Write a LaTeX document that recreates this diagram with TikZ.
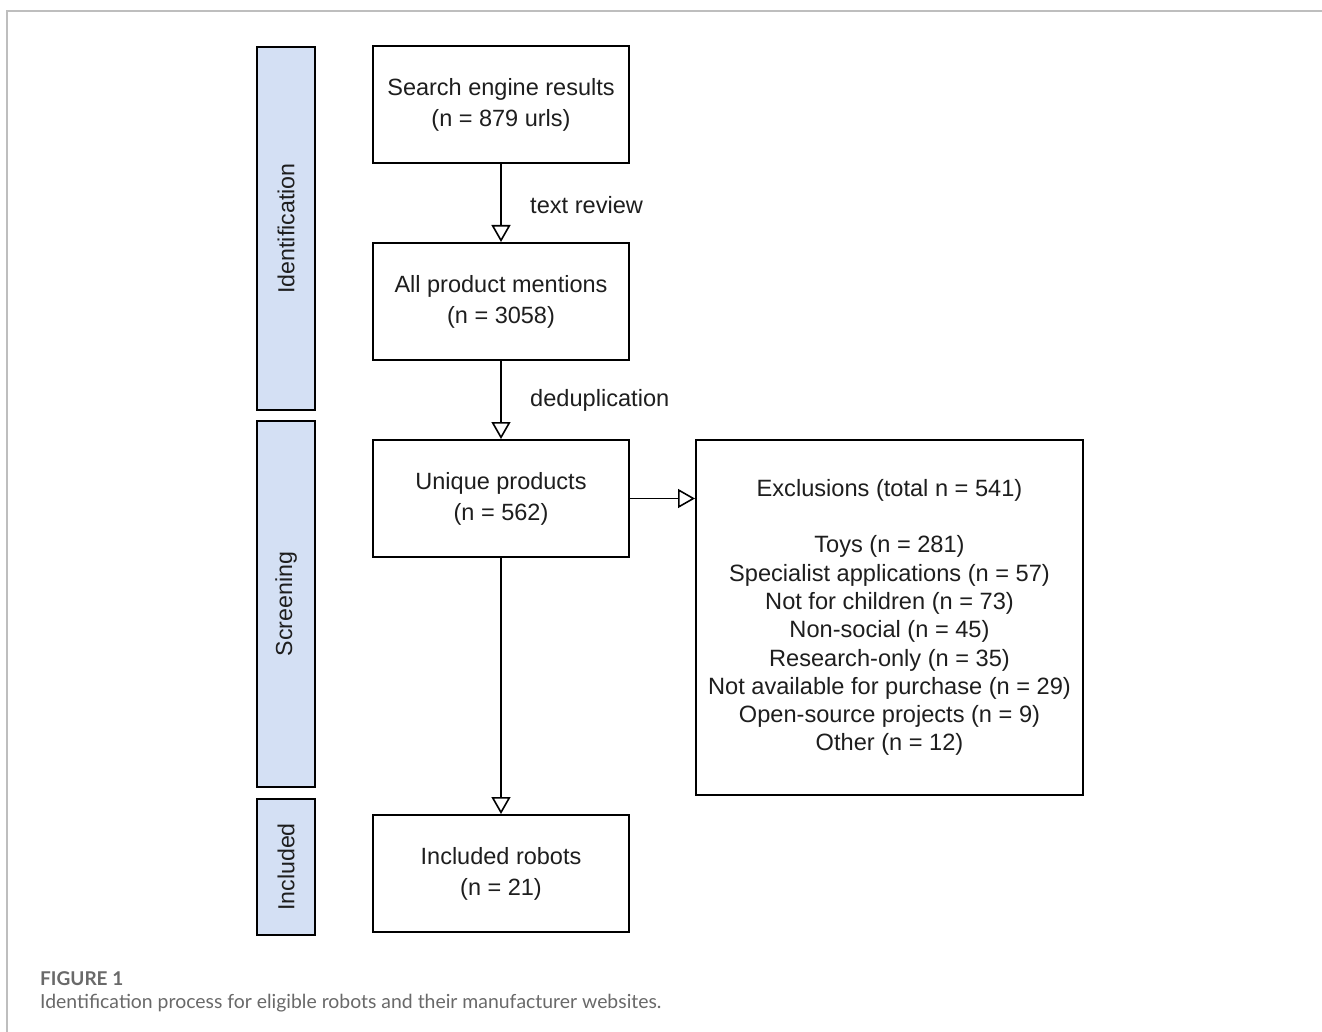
\documentclass[tikz,border=0pt]{standalone}
\usepackage{fontspec}
\setmainfont{Liberation Sans}
\newfontfamily\capfont{Lato}
\usetikzlibrary{arrows.meta}
\definecolor{lanefill}{RGB}{212,224,244}
\definecolor{txt}{RGB}{30,30,30}
\definecolor{capgray}{RGB}{105,105,105}
\definecolor{framegray}{RGB}{190,190,190}
\begin{document}
\begin{tikzpicture}[x=1pt,y=-1pt,
  box/.style={draw=black, line width=2pt, fill=white, minimum width=256pt, minimum height=117pt, align=center, text=txt, font=\fontsize{23.5}{31}\selectfont, inner sep=0pt},
  lane/.style={draw=black, line width=2pt, fill=lanefill, rotate=90, minimum height=58pt, inner sep=0pt, text=txt, font=\fontsize{23.2}{26}\selectfont},
  arr/.style={draw=black, line width=1.6pt, -{Triangle[open, width=19pt, length=17pt, line width=1.6pt]}},
  lbl/.style={anchor=west, text=txt, font=\fontsize{23.6}{26}\selectfont, inner sep=0pt}]
\useasboundingbox (0,0) rectangle (1322,1032);
\fill[white] (0,0) rectangle (1322,1032);
\draw[framegray, line width=1.5pt] (7,1032) -- (7,11) -- (1322,11);
% lanes
\node[lane, minimum width=363pt] (lid) at (286,228.5) {Identification};
\node[lane, minimum width=366pt] (lsc) at (286,604) {Screening};
\node[lane, minimum width=136pt] (lin) at (286,867) {Included};
% boxes
\node[box] (b1) at (501,104.5) {Search engine results\\(n = 879 urls)};
\node[box] (b2) at (501,301.5) {All product mentions\\(n = 3058)};
\node[box] (b3) at (501,498.5) {Unique products\\(n = 562)};
\node[box] (b4) at (501,873.5) {Included robots\\(n = 21)};
\node[box, minimum width=387pt, minimum height=355pt, font=\fontsize{23.6}{28.3}\selectfont] (ex) at (889.5,617.5)
  {Exclusions (total n = 541)\\[28.3pt]Toys (n = 281)\\Specialist applications (n = 57)\\Not for children (n = 73)\\Non-social (n = 45)\\Research-only (n = 35)\\Not available for purchase (n = 29)\\Open-source projects (n = 9)\\Other (n = 12)};
% connectors
\draw[arr] (b1) -- (b2);
\draw[arr] (b2) -- (b3);
\draw[arr] (b3) -- (b4);
\draw[arr] (b3.east) -- (b3.east -| ex.west);
% labels
\node[lbl] (t1) at (530,205) {text review};
\node[lbl] (t2) at (530,400) {deduplication};
% caption
\node[anchor=west, inner sep=0pt, text=capgray, font=\capfont\bfseries\fontsize{19}{22}\selectfont] (cap1) at (40,979) {FIGURE 1};
\node[anchor=west, inner sep=0pt, text=capgray, font=\capfont\fontsize{19.4}{22}\selectfont] (cap2) at (40,1003) {Identification process for eligible robots and their manufacturer websites.};
\end{tikzpicture}
\end{document}
